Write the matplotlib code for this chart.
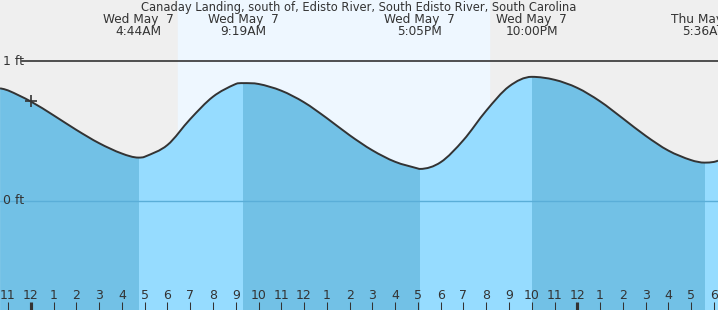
import numpy as np
import matplotlib.pyplot as plt
from matplotlib.path import Path
from matplotlib.patches import PathPatch, Rectangle

# hours after midnight Wed May 7, tide height in ft
hours = [-1.35, -1, 0, 1, 2, 3, 4, 5, 6, 7, 8, 9, 10, 11, 12, 13, 14, 15,
         16, 17, 18, 19, 20, 21, 23, 24, 25, 26, 27, 28, 29, 30, 30.18]
heights = [0.805, 0.790, 0.711, 0.612, 0.508, 0.413, 0.339, 0.316, 0.400,
           0.585, 0.745, 0.836, 0.836, 0.788, 0.705, 0.592, 0.470, 0.362,
           0.280, 0.232, 0.277, 0.435, 0.645, 0.818, 0.866, 0.808,
           0.712, 0.590, 0.466, 0.360, 0.292, 0.279, 0.288]

# high / low tide events
event_hours = [4.733, 9.317, 17.083, 22.0, 29.6]
event_heights = [0.310, 0.842, 0.229, 0.887, 0.274]
event_days = ['Wed May  7', 'Wed May  7', 'Wed May  7', 'Wed May  7', 'Thu May  7']
event_times = ['4:44AM', '9:19AM', '5:05PM', '10:00PM', '5:36AM']

sunrise, sunset = 6.46, 20.12
now_hour, now_height = 0.0, 0.711

tick_hours = list(range(-1, 31))
tick_labels = [str((h - 1) % 12 + 1) for h in tick_hours]

title = 'Canaday Landing, south of, Edisto River, South Edisto River, South Carolina'

# merge readings with the event points so the colour boundaries line up
t = np.array(hours + event_hours)
h = np.array(heights + event_heights)
order = np.argsort(t)
t, h = t[order], h[order]
n = len(t)

# slopes for a smooth bezier through the read points, flat at highs/lows
slopes = np.zeros(n)
for i in range(n):
    if t[i] in event_hours:
        continue
    a, b = max(i - 1, 0), min(i + 1, n - 1)
    slopes[i] = (h[b] - h[a]) / (t[b] - t[a])

verts = [(t[0], h[0])]
codes = [Path.MOVETO]
for i in range(n - 1):
    dt = t[i + 1] - t[i]
    verts += [(t[i] + dt / 3, h[i] + slopes[i] * dt / 3),
              (t[i + 1] - dt / 3, h[i + 1] - slopes[i + 1] * dt / 3),
              (t[i + 1], h[i + 1])]
    codes += [Path.CURVE4] * 3

xmin, xmax = -1.353, 30.18
ymin, ymax = -0.779, 1.436

fig = plt.figure(figsize=(7.18, 3.10), dpi=100)
ax = fig.add_axes([0, 0, 1, 1])
ax.set_facecolor('#efefef')
ax.set_xlim(xmin, xmax)
ax.set_ylim(ymin, ymax)
for s in ax.spines.values():
    s.set_visible(False)
ax.set_xticks([])
ax.set_yticks([])

ax.axvspan(sunrise, sunset, color='#eef7ff', zorder=0)

# area under the curve, used as clip for the coloured bands
fverts = [(t[0], ymin)] + verts + [(t[-1], ymin), (t[0], ymin)]
fcodes = [Path.MOVETO, Path.LINETO] + codes[1:] + [Path.LINETO, Path.CLOSEPOLY]
area = PathPatch(Path(fverts, fcodes), fc='none', lw=0, transform=ax.transData)
ax.add_patch(area)

# falling tide dark, rising tide light
bounds = [xmin] + event_hours + [xmax]
for i in range(len(bounds) - 1):
    col = '#72c1e6' if i % 2 == 0 else '#96dcff'
    r = Rectangle((bounds[i], ymin), bounds[i + 1] - bounds[i], ymax - ymin,
                  color=col, lw=0, zorder=1)
    ax.add_patch(r)
    r.set_clip_path(area)

ax.add_patch(PathPatch(Path(verts, codes), fc='none', ec='#333333', lw=1.4, zorder=3))
zl = ax.axhline(0, color='#5aaed8', lw=1, zorder=2)
zl.set_clip_path(area)
ax.plot([-0.4, xmax], [1, 1], color='#333333', lw=1.2, zorder=3)
ax.plot(now_hour, now_height, marker='+', ms=9, mew=1.2, color='#333333', zorder=4)

ax.text(-1.22, 1, '1 ft', fontsize=9, color='#333333', va='center', ha='left')
ax.text(-1.22, 0, '0 ft', fontsize=9, color='#333333', va='center', ha='left')

ax.text(0.5, 1 - 7.5 / 310, title, transform=ax.transAxes, fontsize=8.3,
        color='#333333', ha='center', va='center')
for eh, d, tm in zip(event_hours, event_days, event_times):
    ax.text(eh, ymax - (19.5 / 140), d, fontsize=8.7, color='#333333', ha='center', va='center')
    ax.text(eh, ymax - (31.5 / 140), tm, fontsize=8.7, color='#333333', ha='center', va='center')

# hour ticks along the bottom
for th, lab in zip(tick_hours, tick_labels):
    w = 3 if th % 24 == 0 else 1
    ax.plot([th, th], [ymin, ymin + 8.5 / 140], color='#333333', lw=w * 0.75,
            solid_capstyle='butt', zorder=5)
    ax.text(th, ymin + 14.5 / 140, lab, fontsize=9, color='#333333',
            ha='center', va='center', zorder=5)

fig.savefig('out.png', dpi=100)
